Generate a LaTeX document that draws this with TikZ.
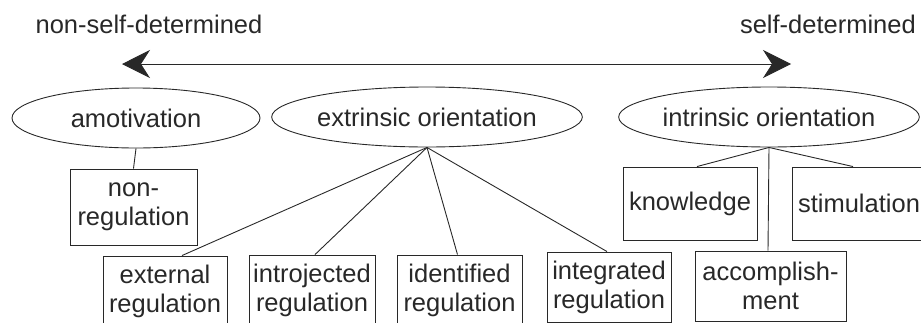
\documentclass[tikz,border=0pt]{standalone}
\usepackage{fontspec}
\setmainfont{Liberation Sans}
\usetikzlibrary{shapes.geometric,arrows.meta}
\definecolor{ink}{RGB}{40,40,40}
\begin{document}
\begin{tikzpicture}[x=1pt,y=-1pt,
  every node/.style={text=ink,font=\fontsize{25.5}{29}\selectfont,inner sep=0pt},
  oval/.style={ellipse,draw=ink,line width=0.9pt},
  box/.style={rectangle,draw=ink,line width=0.9pt,align=center},
  link/.style={draw=ink,line width=0.9pt}]
\useasboundingbox (0,0) rectangle (921,322);
\clip (0,0) rectangle (921,322);
% scale labels
\node[anchor=base] (nsd) at (149,33) {non-self-determined};
\node[anchor=base east] (sd) at (916,33) {self-determined};
\coordinate (la) at (122,64);
\coordinate (ra) at (791,64);
\draw[link,{Stealth[length=28pt,width=28pt,inset=9pt]}-{Stealth[length=28pt,width=28pt,inset=9pt]}] (la) -- (ra);
% ellipses
\node[oval,minimum width=248pt,minimum height=60pt] (amo) at (136,118) {amotivation};
\node[oval,minimum width=245pt,minimum height=60pt] (ext) at (427,117) {extrinsic orientation};
\node[oval,minimum width=245pt,minimum height=60pt] (intr) at (769,117) {intrinsic orientation};
% boxes
\node[box,minimum width=127pt,minimum height=76pt] (nonreg) at (133.5,207) {non-\\regulation};
\node[box,minimum width=124pt,minimum height=70pt] (extreg) at (165,291) {external\\regulation};
\node[box,minimum width=126pt,minimum height=70pt] (intro) at (312,290) {introjected\\regulation};
\node[box,minimum width=125pt,minimum height=70pt] (ident) at (459.5,290) {identified\\regulation};
\node[box,minimum width=124pt,minimum height=70pt] (integ) at (609,287) {integrated\\regulation};
\node[box,minimum width=151pt,minimum height=70pt] (acc) at (770.5,286) {accomplish-\\ment};
\node[box,minimum width=134pt,minimum height=73pt] (know) at (690,203.5) {knowledge};
\node[box,minimum width=134pt,minimum height=73pt] (stim) at (859,203.5) {stimulation};
% connectors
\draw[link] (amo.south) -- (nonreg.north);
\draw[link] (ext.south) -- ([xshift=17pt]extreg.north);
\draw[link] (ext.south) -- ([xshift=3pt]intro.north);
\draw[link] (ext.south) -- ([xshift=-2pt]ident.north);
\draw[link] (ext.south) -- ([xshift=-2pt]integ.north);
\draw[link] (intr.south) -- ([xshift=7pt]know.north);
\draw[link] (intr.south) -- ([xshift=-6pt]stim.north);
\draw[link] (intr.south) -- ([xshift=-2.5pt]acc.north);
\end{tikzpicture}
\end{document}
